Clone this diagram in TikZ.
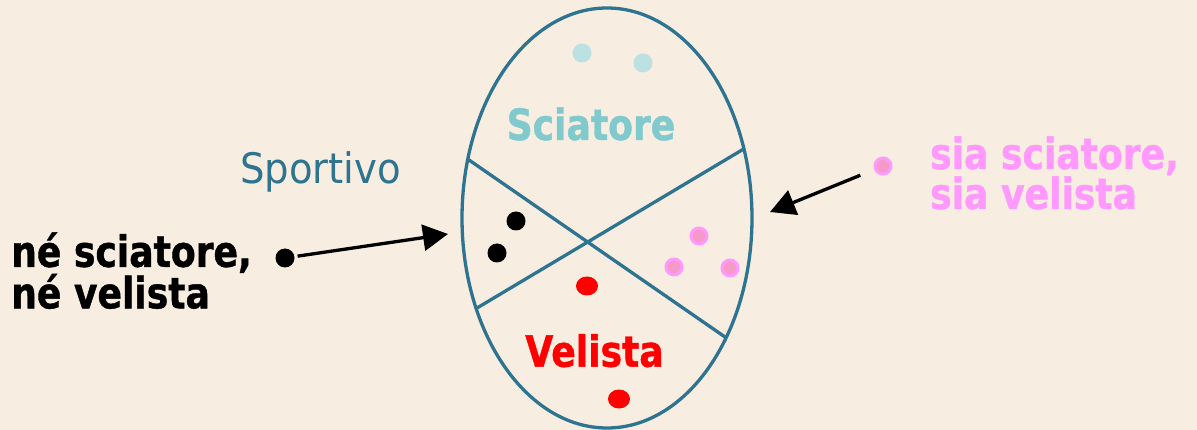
\documentclass[tikz,border=0pt]{standalone}
\usepackage{fontspec}
\usetikzlibrary{arrows.meta,shapes.geometric}
\newfontfamily\tah[FakeStretch=0.84, BoldFeatures={FakeBold=1}]{DejaVu Sans}
\newfontfamily\tahr[FakeStretch=0.92]{DejaVu Sans}
\definecolor{bg}{HTML}{F7EDE0}
\definecolor{egg}{HTML}{2E7490}
\definecolor{scicol}{HTML}{80CACD}
\definecolor{scidot}{HTML}{BCE1E3}
\definecolor{pinktxt}{HTML}{FF99FF}
\definecolor{pinkin}{HTML}{F59AC8}
\definecolor{velred}{HTML}{FF0000}
\begin{document}
\begin{tikzpicture}[x=1pt,y=-1pt,
  lbl/.style={font=\tah\bfseries\fontsize{43}{40}\selectfont, inner sep=0pt},
  dotc/.style={circle, inner sep=0pt, minimum size=19pt, fill=#1},
  pdot/.style={circle, inner sep=0pt, minimum size=16pt, fill=pinkin, draw=pinktxt, line width=3pt},
  rdot/.style={ellipse, inner sep=0pt, minimum width=22pt, minimum height=19pt, fill=velred},
  divider/.style={draw=egg, line width=3.3pt},
  arr/.style={line width=3.3pt, -{Triangle[length=25pt,width=26pt]}}]
\fill[bg] (0,0) rectangle (1197,430);
\useasboundingbox (0,0) rectangle (1197,430);
% dividing lines inside the set
\begin{scope}
  \clip (607,218) ellipse [x radius=145pt, y radius=210pt];
  \coordinate (l1a) at (469,160);
  \coordinate (l1b) at (725,337);
  \coordinate (l2a) at (742,150);
  \coordinate (l2b) at (477,308);
  \draw[divider, shorten <=-12pt, shorten >=-12pt] (l1a) -- (l1b);
  \draw[divider, shorten <=-12pt, shorten >=-12pt] (l2a) -- (l2b);
\end{scope}
\node[ellipse, draw=egg, line width=3.3pt, minimum width=290pt, minimum height=420pt, inner sep=0pt] (set) at (607,218) {};
% labels
\node[lbl, text=scicol, anchor=base] (sci) at (591,140) {Sciatore};
\node[lbl, text=velred, anchor=base] (vel) at (594.5,366.7) {Velista};
\node[font=\tahr\fontsize{42}{42}\selectfont, text=egg, anchor=base, inner sep=0pt] (sport) at (320.5,183.3) {Sportivo};
\node[lbl, text=black, align=left, anchor=base west] (ne) at (11,308.3) {né sciatore,\\né velista};
\node[lbl, text=pinktxt, align=left, anchor=base west] (sia) at (930,209) {sia sciatore,\\sia velista};
% elements
\node[dotc=scidot] (s1) at (582,53) {};
\node[dotc=scidot] (s2) at (643,63) {};
\node[dotc=black] (n1) at (516,221) {};
\node[dotc=black] (n2) at (497,253) {};
\node[pdot] (p1) at (699,236) {};
\node[pdot] (p2) at (674,267) {};
\node[pdot] (p3) at (730,268) {};
\node[rdot] (r1) at (587,286) {};
\node[rdot] (r2) at (619,399) {};
\node[dotc=black] (nodot) at (285,258) {};
\node[pdot] (siadot) at (883,166) {};
% arrows
\coordinate (a1) at (448,234);
\coordinate (a2) at (770,212);
\draw[arr, shorten <=3pt] (nodot) -- (a1);
\draw[arr, shorten <=15pt] (siadot) -- (a2);
\end{tikzpicture}
\end{document}
